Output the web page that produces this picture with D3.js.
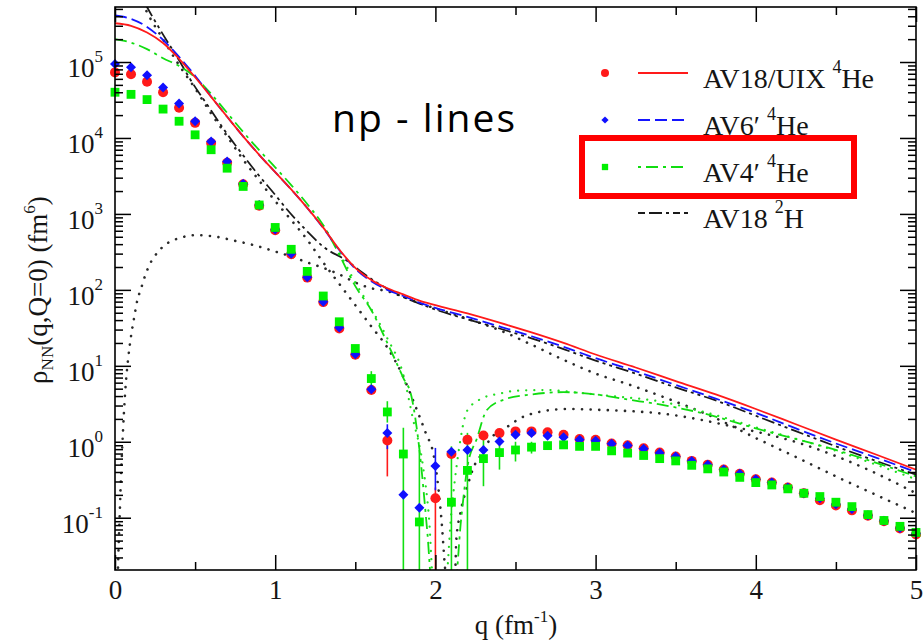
<!DOCTYPE html>
<html>
<head>
<meta charset="utf-8">
<script src="https://d3js.org/d3.v7.min.js"></script>
<style>
  html, body { margin: 0; padding: 0; background: #fff; }
  svg { display: block; }
  text { font-family: "Liberation Serif", "DejaVu Serif", serif; fill: #151515; }
</style>
</head>
<body>
<div id="chart-container"></div>
<script>
// q grid of the VMC points (fm^-1)
const qPoints = [0, 0.1, 0.2, 0.3, 0.4, 0.5, 0.6, 0.7, 0.8, 0.9, 1.0,
  1.1, 1.2, 1.3, 1.4, 1.5, 1.6, 1.7, 1.8, 1.9, 2.0,
  2.1, 2.2, 2.3, 2.4, 2.5, 2.6, 2.7, 2.8, 2.9, 3.0,
  3.1, 3.2, 3.3, 3.4, 3.5, 3.6, 3.7, 3.8, 3.9, 4.0,
  4.1, 4.2, 4.3, 4.4, 4.5, 4.6, 4.7, 4.8, 4.9, 5.0];

// point values (null = off scale)
const av18uixPts = [7.3e4, 6.9e4, 5.5e4, 4.0e4, 2.5e4, 1.58e4, 8.6e3, 4.7e3, 2.45e3, 1.28e3, 610,
  295, 145, 69, 31, 14, 4.8, 1.04, null, null, 0.18,
  0.69, 1.06, 1.21, 1.30, 1.37, 1.37, 1.33, 1.24, 1.09, 1.06,
  0.95, 0.90, 0.82, 0.72, 0.64, 0.56, 0.50, 0.43, 0.38, 0.32,
  0.29, 0.25, 0.21, 0.17, 0.145, 0.125, 0.106, 0.09, 0.072, 0.06];
const av6Pts = [9.4e4, 8.5e4, 6.7e4, 4.6e4, 2.85e4, 1.66e4, 9.0e3, 4.9e3, 2.5e3, 1.31e3, 624,
  300, 147, 70, 32, 14.2, 4.9, 1.30, 0.20, 0.135, 0.48,
  0.74, 0.78, 0.78, 1.01, 1.24, 1.30, 1.20, 1.15, 1.06, 1.03,
  0.94, 0.89, 0.81, 0.71, 0.64, 0.56, 0.50, 0.43, 0.38, 0.32,
  0.29, 0.25, 0.21, 0.18, 0.15, 0.13, 0.108, 0.091, 0.073, 0.062];
const av4Pts = [4.0e4, 3.75e4, 3.2e4, 2.4e4, 1.66e4, 1.1e4, 7.0e3, 4.0e3, 2.3e3, 1.31e3, 663,
  342, 175, 83, 38, 16.9, 6.8, 2.47, 0.69, 0.088, null,
  0.16, 0.42, 0.60, 0.72, 0.78, 0.85, 0.89, 0.91, 0.87, 0.87,
  0.76, 0.71, 0.66, 0.60, 0.56, 0.49, 0.44, 0.40, 0.34, 0.29,
  0.27, 0.24, 0.21, 0.19, 0.16, 0.14, 0.11, 0.092, 0.077, 0.064];

// error bars [q, low, high]
const av18uixErr = [[1.7, 0.35, 1.15], [2.0, 0.02, 0.25]];
const av6Err = [[1.7, 0.8, 1.7], [2.0, 0.23, 0.83]];
const av4Err = [[1.6, 5.5, 8.5], [1.7, 1.79, 3.42], [1.8, 0.01, 1.53], [1.9, 0.01, 0.78],
  [2.1, 0.01, 0.87], [2.2, 0.01, 1.31], [2.3, 0.26, 1.06], [2.4, 0.43, 1.31],
  [2.5, 0.55, 1.0], [2.6, 0.7, 1.0]];

// np curves [q, value]
const av18uixLine = [[0, 3.24e5], [0.1, 3.0e5], [0.2, 2.45e5], [0.3, 1.78e5], [0.4, 1.1e5], [0.5, 6.3e4],
  [0.6, 3.47e4], [0.7, 1.9e4], [0.8, 1.05e4], [0.9, 6.0e3], [1.0, 3.55e3], [1.1, 2.1e3], [1.2, 1.2e3],
  [1.3, 660], [1.4, 340], [1.5, 195], [1.6, 135], [1.7, 105], [1.8, 87], [1.9, 72], [2.0, 63],
  [2.2, 49], [2.4, 37], [2.6, 27.5], [2.8, 20], [3.0, 14.1], [3.25, 9.5], [3.5, 6.3], [3.75, 4.2],
  [4.0, 2.7], [4.25, 1.7], [4.5, 1.07], [4.75, 0.68], [5.0, 0.43]];
const av6Line = [[0, 4.1e5], [0.1, 3.7e5], [0.2, 2.9e5], [0.3, 1.95e5], [0.4, 1.17e5], [0.5, 6.6e4],
  [0.6, 3.5e4], [0.7, 1.9e4], [0.8, 1.05e4], [0.9, 6.0e3], [1.0, 3.55e3], [1.1, 2.1e3], [1.2, 1.2e3],
  [1.3, 650], [1.4, 335], [1.5, 190], [1.6, 130], [1.7, 100], [1.8, 83], [1.9, 68], [2.0, 58],
  [2.2, 44], [2.4, 33], [2.6, 24.5], [2.8, 17.8], [3.0, 12.6], [3.25, 8.5], [3.5, 5.6], [3.75, 3.7],
  [4.0, 2.4], [4.25, 1.5], [4.5, 0.95], [4.75, 0.62], [5.0, 0.40]];
const av4Line = [[0, 2.0e5], [0.1, 1.8e5], [0.2, 1.48e5], [0.3, 1.12e5], [0.4, 8.9e4], [0.5, 6.3e4],
  [0.6, 3.8e4], [0.7, 2.14e4], [0.8, 1.2e4], [0.9, 6.9e3], [1.0, 4.1e3], [1.1, 2.4e3], [1.2, 1.35e3],
  [1.3, 710], [1.4, 290], [1.5, 112], [1.6, 54], [1.7, 20], [1.8, 6.9], [1.85, 4.0], [1.9, 0.8],
  [1.95, 0.063], [1.98, 0.012], [2.12, 0.012], [2.16, 0.093], [2.2, 0.47], [2.26, 1.12], [2.32, 2.6],
  [2.43, 3.6], [2.6, 4.2], [2.8, 4.5], [3.0, 4.2], [3.2, 3.6], [3.4, 3.1], [3.66, 2.4], [4.0, 1.5],
  [4.5, 0.78], [5.0, 0.35]];
const av18dLine = [[0.1, 1.3e6], [0.15, 8.5e5], [0.2, 5.3e5], [0.28, 2.7e5], [0.4, 1.05e5], [0.47, 5.9e4],
  [0.6, 2.3e4], [0.68, 1.29e4], [0.8, 5.9e3], [0.885, 3.47e3], [1.0, 1.78e3], [1.07, 1.17e3],
  [1.2, 590], [1.3, 370], [1.45, 240], [1.55, 165], [1.7, 103], [1.8, 80], [1.9, 66], [2.0, 55],
  [2.2, 41], [2.4, 31], [2.6, 23], [2.8, 16.6], [3.0, 11.7], [3.25, 7.9], [3.5, 5.2], [3.75, 3.5],
  [4.0, 2.2], [4.25, 1.38], [4.5, 0.87], [4.75, 0.56], [5.0, 0.37]];

// dotted curves [q, value]
const dotDip = [[0.15, 7.5e5], [0.2, 4.5e5], [0.3, 2.0e5], [0.4, 9.1e4], [0.5, 4.5e4], [0.6, 2.1e4],
  [0.7, 1.05e4], [0.8, 5.2e3], [0.9, 2.75e3], [1.0, 1.48e3], [1.1, 830], [1.2, 457], [1.3, 229],
  [1.4, 120], [1.5, 63], [1.6, 33], [1.7, 17.4], [1.8, 7.1], [1.875, 2.95], [1.94, 1.3], [1.99, 0.65],
  [2.02, 0.23], [2.04, 0.083], [2.06, 0.022], [2.08, 0.01], [2.11, 0.01], [2.125, 0.022], [2.13, 0.05],
  [2.156, 0.115], [2.2, 0.26], [2.24, 0.47], [2.28, 0.65], [2.34, 1.07], [2.45, 1.58], [2.53, 2.04],
  [2.66, 2.5], [2.82, 2.7], [3.03, 2.63], [3.45, 2.3], [3.86, 1.58], [4.28, 0.95], [4.7, 0.43], [5.0, 0.21]];
const dotBump = [[0.015, 0.01], [0.02, 0.0275], [0.03, 0.12], [0.04, 0.47], [0.05, 1.4], [0.0625, 4.2],
  [0.083, 12.9], [0.1, 24.5], [0.12, 43.7], [0.14, 74], [0.16, 100], [0.19, 158], [0.22, 224],
  [0.25, 282], [0.29, 355], [0.34, 427], [0.4, 479], [0.5, 525], [0.63, 501], [0.75, 442], [0.865, 389],
  [1.0, 320], [1.1, 275], [1.2, 230], [1.3, 195], [1.4, 160], [1.5, 125], [1.6, 105], [1.7, 96],
  [1.8, 81], [1.9, 67], [2.0, 57], [2.2, 41.7], [2.4, 29.5], [2.6, 19], [2.8, 12], [3.0, 7.9],
  [3.2, 5.75], [3.45, 3.7], [3.75, 2.04], [4.0, 1.12], [4.25, 0.63], [4.5, 0.35], [4.75, 0.2], [5.0, 0.115]];
const dotAv4 = [[1.3, 700], [1.4, 310], [1.5, 125], [1.6, 56], [1.7, 23], [1.8, 7.6], [1.86, 2.0],
  [1.92, 0.52], [1.96, 0.1], [1.99, 0.012], [2.06, 0.012], [2.1, 0.12], [2.14, 0.63], [2.2, 2.6],
  [2.3, 3.8], [2.4, 4.3], [2.5, 4.7], [2.7, 4.8], [2.9, 4.4], [3.1, 4.0], [3.4, 3.4], [3.7, 2.4],
  [4.0, 1.55], [4.5, 0.76], [5.0, 0.32]];

const xTicks = [0, 1, 2, 3, 4, 5];
const xMinorTicks = [0.5, 1.5, 2.5, 3.5, 4.5];
const yTicks = [1e-1, 1e0, 1e1, 1e2, 1e3, 1e4, 1e5];
const legendNames = ['AV18/UIX ', 'AV6\u2032 ', 'AV4\u2032 ', 'AV18 '];
const legendIso = [['4', 'He'], ['4', 'He'], ['4', 'He'], ['2', 'H']];

const width = 923, height = 644;
const plotL = 115, plotR = 916, plotT = 7, plotB = 570;
const serif = '"Liberation Serif", "DejaVu Serif", serif';

const svg = d3.select('#chart-container')
  .append('svg')
  .attr('width', width)
  .attr('height', height);

const x = d3.scaleLinear().domain([0, 5]).range([plotL, plotR]);
const y = d3.scaleLog().domain([0.0205, 5.3e5]).range([plotB, plotT]);

svg.append('clipPath').attr('id', 'plot-clip')
  .append('rect')
  .attr('x', plotL).attr('y', plotT)
  .attr('width', plotR - plotL).attr('height', plotB - plotT);

const plot = svg.append('g').attr('clip-path', 'url(#plot-clip)');

const line = d3.line()
  .x(d => x(d[0]))
  .y(d => y(d[1]))
  .curve(d3.curveMonotoneX);

function curve(data, color, dash, w) {
  plot.append('path')
    .datum(data)
    .attr('d', line)
    .attr('fill', 'none')
    .attr('stroke', color)
    .attr('stroke-width', w)
    .attr('stroke-dasharray', dash)
    .attr('stroke-linecap', dash && dash.startsWith('0.1') ? 'round' : 'butt');
}

// dotted curves first
curve(dotBump, '#2a2a2a', '0.1,8.5', 2.6);
curve(dotDip, '#2a2a2a', '0.1,8.5', 2.6);
curve(dotAv4, '#22dd22', '0.1,8', 2.2);

// np curves
curve(av18dLine, '#1a1a1a', '13,4,3,4,3,4', 1.8);
curve(av4Line, '#11dd11', '12,5,3,5', 1.8);
curve(av6Line, '#1515ff', '12,5', 1.8);
curve(av18uixLine, '#ff1a1a', null, 1.8);

// error bars
function errBars(data, color) {
  plot.selectAll(null)
    .data(data)
    .join('line')
    .attr('x1', d => x(d[0])).attr('x2', d => x(d[0]))
    .attr('y1', d => y(d[1])).attr('y2', d => y(d[2]))
    .attr('stroke', color)
    .attr('stroke-width', 1.6);
}
errBars(av18uixErr, '#ff1a1a');
errBars(av4Err, '#11e011');
errBars(av6Err, '#1515ff');

// points
function pts(values) {
  return qPoints.map((q, i) => ({ q: q, v: values[i] })).filter(d => d.v != null);
}

svg.append('g').selectAll('circle')
  .data(pts(av18uixPts))
  .join('circle')
  .attr('cx', d => x(d.q))
  .attr('cy', d => y(d.v))
  .attr('r', 5)
  .attr('fill', '#ff1a1a');

svg.append('g').selectAll('path')
  .data(pts(av6Pts))
  .join('path')
  .attr('d', d3.symbol(d3.symbolSquare, 50))
  .attr('transform', d => `translate(${x(d.q)},${y(d.v)}) rotate(45)`)
  .attr('fill', '#1010ff');

svg.append('g').selectAll('path')
  .data(pts(av4Pts))
  .join('path')
  .attr('d', d3.symbol(d3.symbolSquare, 78))
  .attr('transform', d => `translate(${x(d.q)},${y(d.v)})`)
  .attr('fill', '#00f000');

// axes
const axisStyle = g => {
  g.attr('font-family', serif);
  g.selectAll('.domain').remove();
  g.selectAll('line').attr('stroke', '#000').attr('stroke-width', 1.5);
};

svg.append('g')
  .attr('transform', `translate(0,${plotB})`)
  .call(d3.axisBottom(x).tickValues(xTicks).tickFormat(d3.format('d'))
    .tickSize(-15).tickSizeOuter(0).tickPadding(10))
  .call(axisStyle)
  .call(g => g.selectAll('text')
    .attr('font-size', 27)
    .attr('fill', '#151515'));

svg.append('g')
  .attr('transform', `translate(0,${plotB})`)
  .call(d3.axisBottom(x).tickValues(xMinorTicks).tickSize(-8).tickFormat(''))
  .call(axisStyle);

svg.append('g')
  .attr('transform', `translate(0,${plotT})`)
  .call(d3.axisTop(x).tickValues(xTicks).tickSize(-15).tickFormat(''))
  .call(axisStyle);

svg.append('g')
  .attr('transform', `translate(0,${plotT})`)
  .call(d3.axisTop(x).tickValues(xMinorTicks).tickSize(-8).tickFormat(''))
  .call(axisStyle);

const yMinor = y.ticks().filter(v => Math.abs(Math.log10(v) - Math.round(Math.log10(v))) > 1e-6);

svg.append('g')
  .attr('transform', `translate(${plotL},0)`)
  .call(d3.axisLeft(y).tickValues(yTicks).tickSize(-16).tickFormat(''))
  .call(axisStyle);
svg.append('g')
  .attr('transform', `translate(${plotL},0)`)
  .call(d3.axisLeft(y).tickValues(yMinor).tickSize(-8).tickFormat(''))
  .call(axisStyle);
svg.append('g')
  .attr('transform', `translate(${plotR},0)`)
  .call(d3.axisRight(y).tickValues(yTicks).tickSize(-16).tickFormat(''))
  .call(axisStyle);
svg.append('g')
  .attr('transform', `translate(${plotR},0)`)
  .call(d3.axisRight(y).tickValues(yMinor).tickSize(-8).tickFormat(''))
  .call(axisStyle);

// y tick labels 10^n
const yLab = svg.append('g').selectAll('text')
  .data(yTicks)
  .join('text')
  .attr('x', plotL - 12)
  .attr('y', d => y(d) + 15)
  .attr('text-anchor', 'end')
  .attr('font-size', 27);
yLab.append('tspan').text('10');
yLab.append('tspan')
  .attr('font-size', 17)
  .attr('dy', -15)
  .text(d => Math.round(Math.log10(d)));

// frame
svg.append('rect')
  .attr('x', plotL).attr('y', plotT)
  .attr('width', plotR - plotL).attr('height', plotB - plotT)
  .attr('fill', 'none')
  .attr('stroke', '#000')
  .attr('stroke-width', 1.6);

// axis titles
const xt = svg.append('text')
  .attr('x', 516)
  .attr('y', 634)
  .attr('text-anchor', 'middle')
  .attr('font-size', 27);
xt.append('tspan').text('q (fm');
xt.append('tspan').attr('font-size', 17).attr('dy', -12).text('-1');
xt.append('tspan').attr('dy', 12).text(')');

const yt = svg.append('text')
  .attr('transform', 'translate(47,290) rotate(-90)')
  .attr('text-anchor', 'middle')
  .attr('font-size', 27);
yt.append('tspan').text('\u03c1');
yt.append('tspan').attr('font-size', 17).attr('dy', 6).text('NN');
yt.append('tspan').attr('dy', -6).text('(q,Q=0) (fm');
yt.append('tspan').attr('font-size', 17).attr('dy', -12).text('6');
yt.append('tspan').attr('dy', 12).text(')');

// legend
const legY = [73, 120, 167, 213];
const legStyle = [
  { color: '#ff1a1a', dash: null, marker: 'circle' },
  { color: '#1515ff', dash: '12,5', marker: 'diamond' },
  { color: '#11dd11', dash: '3,5,12,5', marker: 'square' },
  { color: '#1a1a1a', dash: '7,4,13,4,3,4', marker: null }
];
const leg = svg.append('g').selectAll('g')
  .data(legendNames)
  .join('g')
  .attr('transform', (d, i) => `translate(0,${legY[i]})`);

leg.append('line')
  .attr('x1', 638).attr('x2', 688)
  .attr('stroke', (d, i) => legStyle[i].color)
  .attr('stroke-width', 1.8)
  .attr('stroke-dasharray', (d, i) => legStyle[i].dash);

leg.filter((d, i) => legStyle[i].marker === 'circle')
  .append('circle').attr('cx', 605).attr('r', 4).attr('fill', '#ff1a1a');
leg.filter((d, i) => legStyle[i].marker === 'diamond')
  .append('path').attr('d', d3.symbol(d3.symbolSquare, 26))
  .attr('transform', 'translate(605,0) rotate(45)').attr('fill', '#1010ff');
leg.filter((d, i) => legStyle[i].marker === 'square')
  .append('path').attr('d', d3.symbol(d3.symbolSquare, 40))
  .attr('transform', 'translate(605,0)').attr('fill', '#00f000');

const legText = leg.append('text')
  .attr('x', 703)
  .attr('y', 15)
  .attr('font-size', 28);
legText.append('tspan').text(d => d);
legText.append('tspan').attr('font-size', 18).attr('dy', -15).text((d, i) => legendIso[i][0]);
legText.append('tspan').attr('dy', 15).text((d, i) => legendIso[i][1]);

// annotation
svg.append('text')
  .attr('x', 332)
  .attr('y', 132)
  .attr('font-size', 39)
  .attr('textLength', 183)
  .attr('lengthAdjust', 'spacing')
  .style('font-family', '"Open Sans", "Noto Sans", sans-serif')
  .style('fill', '#000')
  .text('np - lines');

svg.append('rect')
  .attr('x', 582).attr('y', 138)
  .attr('width', 272).attr('height', 58)
  .attr('fill', 'none')
  .attr('stroke', '#ff0000')
  .attr('stroke-width', 6);
</script>
</body>
</html>
